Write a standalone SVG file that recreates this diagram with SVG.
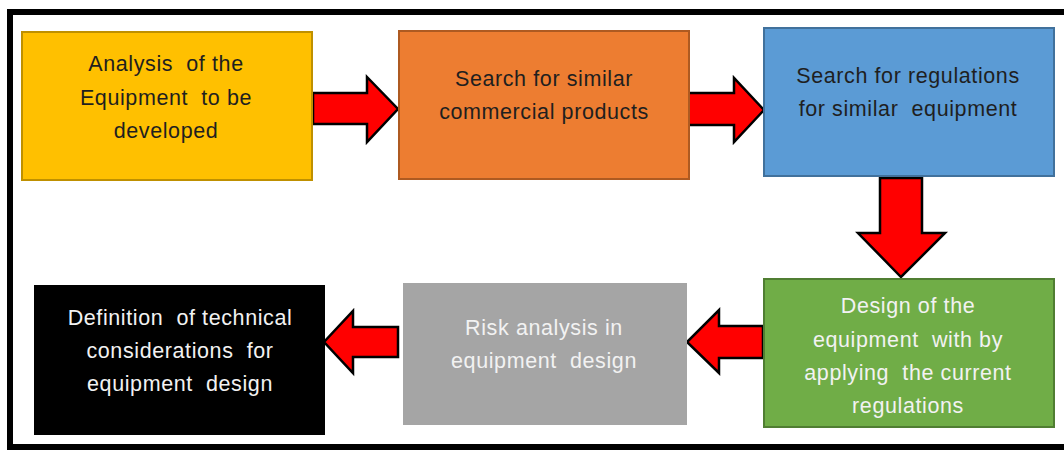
<svg xmlns="http://www.w3.org/2000/svg" width="1064" height="451" viewBox="0 0 1064 451">
<style>
.t{font-family:"Liberation Sans",Arial,sans-serif;font-size:21.5px;letter-spacing:0.6px;text-anchor:middle;white-space:pre}
.dk{fill:#1f1f1f}
.lt{fill:#f2f2f2}
.arr{fill:#ff0000;stroke:#000;stroke-width:2.5;stroke-linejoin:miter}
</style>
<rect x="0" y="0" width="1064" height="451" fill="#fff"/>
<rect x="10" y="12" width="1080" height="435" fill="none" stroke="#000" stroke-width="6"/>
<g id="connectors">
<path class="arr" d="M313 93 H367 V77 L398 109 L367 142 V124 H313 Z"/>
<path class="arr" d="M688 93 H734 V78 L764 110 L734 142 V125 H688 Z"/>
<path class="arr" d="M880 178 H922 V233 H945 L901 277 L858 233 H880 Z"/>
<path class="arr" d="M763 326 H719 V310 L687 342 L719 373 V358 H763 Z"/>
<path class="arr" d="M398 327 H353 V311 L324 342 L353 373 V357 H398 Z"/>
</g>
<g id="n1">
<rect x="22" y="32" width="290" height="148" fill="#ffc000" stroke="#bf9000" stroke-width="2"/>
<text class="t dk" x="166" y="71">Analysis  of the</text>
<text class="t dk" x="166" y="105">Equipment  to be</text>
<text class="t dk" x="166" y="138">developed</text>
</g>
<g id="n2">
<rect x="399" y="31" width="290" height="148" fill="#ed7d31" stroke="#ae5a21" stroke-width="2"/>
<text class="t dk" x="544" y="86">Search for similar</text>
<text class="t dk" x="544" y="119">commercial products</text>
</g>
<g id="n3">
<rect x="764" y="28" width="290" height="148" fill="#5b9bd5" stroke="#41719c" stroke-width="2"/>
<text class="t dk" x="908" y="83">Search for regulations</text>
<text class="t dk" x="908" y="116">for similar  equipment</text>
</g>
<g id="n4">
<rect x="764" y="279" width="290" height="148" fill="#70ad47" stroke="#507e32" stroke-width="2"/>
<text class="t lt" x="908" y="313">Design of the</text>
<text class="t lt" x="908" y="347">equipment  with by</text>
<text class="t lt" x="908" y="380">applying  the current</text>
<text class="t lt" x="908" y="413">regulations</text>
</g>
<g id="n5">
<rect x="403" y="283" width="284" height="142" fill="#a5a5a5"/>
<text class="t lt" x="544" y="335">Risk analysis in</text>
<text class="t lt" x="544" y="368">equipment  design</text>
</g>
<g id="n6">
<rect x="34" y="285" width="291" height="150" fill="#000"/>
<text class="t lt" x="180" y="325">Definition  of technical</text>
<text class="t lt" x="180" y="358">considerations  for</text>
<text class="t lt" x="180" y="391">equipment  design</text>
</g>
</svg>
